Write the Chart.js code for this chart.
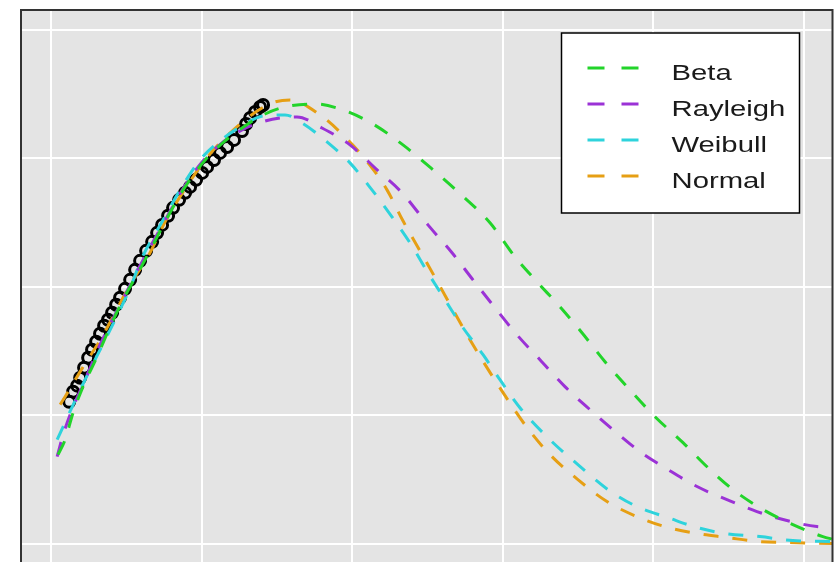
<!DOCTYPE html>
<html>
<head>
<meta charset="utf-8">
<script src="https://cdn.jsdelivr.net/npm/chart.js@4.4.1/dist/chart.umd.min.js"></script>
<style>
    body { margin: 0; background: #ffffff; overflow: hidden; }
    #wrap { width: 841px; height: 598px; }
</style>
</head>
<body>
<div id="wrap"><canvas id="fitChart" width="841" height="598"></canvas></div>
<script>
// observed values (open circles)
const obsX = [0.120, 0.146, 0.173, 0.193, 0.219, 0.246, 0.272, 0.299, 0.325, 0.352, 0.378, 0.405, 0.432, 0.458, 0.491, 0.525, 0.558, 0.591, 0.631, 0.671, 0.704, 0.737, 0.777, 0.810, 0.850, 0.890, 0.923, 0.963, 1.003, 1.036, 1.082, 1.122, 1.169, 1.215, 1.268, 1.295, 1.322, 1.355, 1.388, 1.408];
const obsY = [1.105, 1.183, 1.230, 1.292, 1.370, 1.447, 1.510, 1.572, 1.634, 1.696, 1.743, 1.798, 1.860, 1.914, 1.984, 2.054, 2.132, 2.202, 2.280, 2.350, 2.420, 2.482, 2.553, 2.615, 2.677, 2.732, 2.778, 2.833, 2.887, 2.934, 2.988, 3.043, 3.089, 3.144, 3.214, 3.268, 3.315, 3.362, 3.401, 3.416];

// fitted curves
const betaX = [0.046, 0.093, 0.146, 0.212, 0.305, 0.392, 0.478, 0.624, 0.757, 0.877, 1.023, 1.155, 1.288, 1.421, 1.554, 1.753, 1.939, 2.138, 2.337, 2.537, 2.703, 2.915, 3.081, 3.227, 3.380, 3.526, 3.679, 3.831, 4.011, 4.197, 4.363, 4.529, 4.728, 4.927, 5.126, 5.2];
const betaY = [0.693, 0.809, 1.019, 1.222, 1.455, 1.689, 1.899, 2.210, 2.506, 2.755, 2.988, 3.136, 3.253, 3.346, 3.401, 3.424, 3.377, 3.268, 3.105, 2.911, 2.739, 2.498, 2.233, 2.039, 1.844, 1.642, 1.416, 1.214, 0.988, 0.786, 0.591, 0.420, 0.265, 0.148, 0.054, 0.031];

const rayleighX = [0.040, 0.080, 0.139, 0.226, 0.325, 0.458, 0.611, 0.744, 0.863, 1.003, 1.135, 1.268, 1.401, 1.521, 1.633, 1.799, 1.985, 2.165, 2.331, 2.503, 2.663, 2.802, 2.948, 3.094, 3.247, 3.413, 3.579, 3.732, 3.911, 4.097, 4.290, 4.489, 4.688, 4.887, 5.086, 5.2];
const rayleighY = [0.677, 0.848, 1.043, 1.276, 1.549, 1.860, 2.210, 2.490, 2.739, 2.973, 3.121, 3.222, 3.284, 3.315, 3.323, 3.237, 3.105, 2.911, 2.732, 2.482, 2.265, 2.054, 1.837, 1.626, 1.432, 1.222, 1.043, 0.887, 0.716, 0.576, 0.444, 0.342, 0.249, 0.179, 0.132, 0.125];

const weibullX = [0.040, 0.080, 0.193, 0.292, 0.392, 0.525, 0.604, 0.737, 0.857, 0.989, 1.122, 1.255, 1.408, 1.554, 1.667, 1.833, 1.985, 2.131, 2.264, 2.384, 2.503, 2.616, 2.736, 2.869, 2.981, 3.114, 3.313, 3.499, 3.699, 3.891, 4.097, 4.290, 4.475, 4.708, 4.927, 5.2];
const weibullY = [0.809, 0.911, 1.198, 1.432, 1.665, 1.992, 2.226, 2.506, 2.755, 2.988, 3.136, 3.245, 3.331, 3.339, 3.276, 3.128, 2.965, 2.755, 2.545, 2.342, 2.109, 1.899, 1.681, 1.471, 1.276, 1.058, 0.809, 0.615, 0.420, 0.288, 0.202, 0.125, 0.078, 0.054, 0.023, 0.016];

const normalX = [0.060, 0.093, 0.193, 0.339, 0.525, 0.657, 0.757, 0.877, 1.023, 1.155, 1.288, 1.401, 1.487, 1.587, 1.786, 1.952, 2.098, 2.231, 2.337, 2.450, 2.570, 2.669, 2.782, 2.895, 3.015, 3.147, 3.313, 3.499, 3.692, 3.891, 4.097, 4.290, 4.489, 4.695, 4.907, 5.2];
const normalY = [1.082, 1.144, 1.339, 1.611, 2.016, 2.265, 2.506, 2.739, 2.988, 3.160, 3.300, 3.393, 3.440, 3.455, 3.339, 3.167, 2.977, 2.755, 2.514, 2.280, 2.031, 1.821, 1.588, 1.370, 1.152, 0.926, 0.693, 0.498, 0.327, 0.210, 0.125, 0.078, 0.047, 0.016, 0.008, 0.000];

const seriesNames = ['Beta', 'Rayleigh', 'Weibull', 'Normal'];
const seriesColors = ['#22d42a', '#9b32d6', '#2ed3dc', '#e69f14'];

function toPoints(xs, ys) {
    return xs.map((x, i) => ({ x: x, y: ys[i] }));
}

// grey panel behind the grid + dark frame on top
const panelBg = {
    id: 'panelBg',
    beforeDraw(chart) {
        const { ctx, chartArea: a } = chart;
        ctx.save();
        ctx.fillStyle = '#e4e4e4';
        ctx.fillRect(a.left, a.top, a.right - a.left, a.bottom - a.top);
        ctx.restore();
    },
    afterDraw(chart) {
        const { ctx, chartArea: a } = chart;
        ctx.save();
        ctx.strokeStyle = '#333333';
        ctx.lineWidth = 2;
        ctx.strokeRect(a.left, a.top, a.right - a.left, a.bottom - a.top);
        ctx.restore();
    }
};

// legend box inside the panel, top right
const insideLegend = {
    id: 'insideLegend',
    afterDraw(chart) {
        const { ctx, chartArea: a } = chart;
        const items = chart.data.datasets.filter(d => d.label);
        const bx = a.right - 271, by = a.top + 23, bw = 238, bh = 180;
        ctx.save();
        ctx.fillStyle = '#ffffff';
        ctx.fillRect(bx, by, bw, bh);
        ctx.strokeStyle = '#000000';
        ctx.lineWidth = 1.5;
        ctx.strokeRect(bx, by, bw, bh);

        items.forEach((d, i) => {
            const y = by + 35 + i * 36;
            ctx.beginPath();
            ctx.setLineDash([17, 17]);
            ctx.strokeStyle = d.borderColor;
            ctx.lineWidth = 3;
            ctx.moveTo(bx + 26, y);
            ctx.lineTo(bx + 80, y);
            ctx.stroke();
            ctx.setLineDash([]);

            // text in the reference is stretched sideways
            ctx.save();
            ctx.translate(bx + 110, by + 47 + i * 36);
            ctx.scale(1.33, 1);
            ctx.fillStyle = '#1a1a1a';
            ctx.font = '22px "Liberation Sans", Arial, sans-serif';
            ctx.textBaseline = 'alphabetic';
            ctx.fillText(d.label, 0, 0);
            ctx.restore();
        });
        ctx.restore();
    }
};

document.addEventListener('DOMContentLoaded', () => {
    const curves = [
        toPoints(betaX, betaY),
        toPoints(rayleighX, rayleighY),
        toPoints(weibullX, weibullY),
        toPoints(normalX, normalY)
    ];

    const datasets = seriesNames.map((name, i) => ({
        label: name,
        data: curves[i],
        borderColor: seriesColors[i],
        borderWidth: 3,
        borderDash: [15, 14],
        pointRadius: 0,
        fill: false,
        cubicInterpolationMode: 'monotone'
    }));

    // observed points go last so they sit under the curves
    datasets.push({
        label: '',
        data: toPoints(obsX, obsY),
        showLine: false,
        pointStyle: 'circle',
        pointRadius: 5.5,
        borderWidth: 3,
        borderColor: '#000000',
        backgroundColor: 'rgba(0,0,0,0)'
    });

    const gridOpts = {
        color: '#ffffff',
        lineWidth: 2,
        drawTicks: false
    };

    new Chart(document.getElementById('fitChart'), {
        type: 'line',
        data: { datasets: datasets },
        options: {
            responsive: false,
            animation: false,
            layout: { padding: { left: 21, right: 0, top: 10, bottom: 0 } },
            plugins: {
                legend: { display: false },
                tooltip: { enabled: false }
            },
            scales: {
                x: {
                    type: 'linear',
                    min: -0.2,
                    max: 5.19,
                    ticks: { display: false, stepSize: 1, includeBounds: false },
                    grid: gridOpts,
                    border: { display: false }
                },
                y: {
                    type: 'linear',
                    min: -0.358,
                    max: 4.156,
                    ticks: { display: false, stepSize: 1, includeBounds: false },
                    grid: gridOpts,
                    border: { display: false }
                }
            }
        },
        plugins: [panelBg, insideLegend]
    });
});
</script>
</body>
</html>
